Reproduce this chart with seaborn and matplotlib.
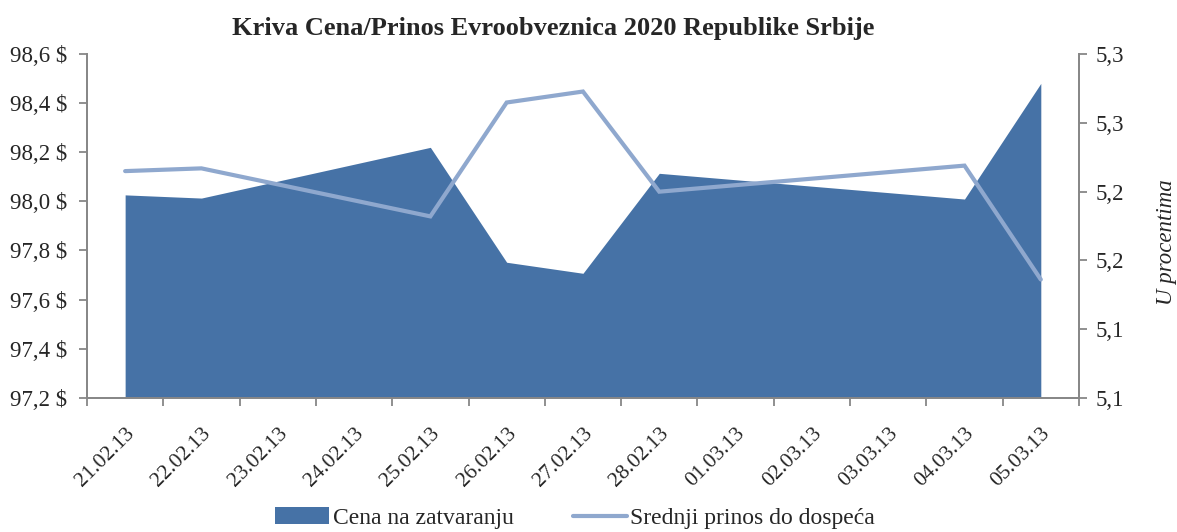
import math
from datetime import date

import matplotlib
matplotlib.use("Agg")
import matplotlib.pyplot as plt
from matplotlib.lines import Line2D
from matplotlib.patches import Patch
from matplotlib.ticker import FuncFormatter, FixedLocator
import pandas as pd
import seaborn as sns

# podaci sa grafikona
datumi = ["21.02.13", "22.02.13", "25.02.13", "26.02.13", "27.02.13",
          "28.02.13", "04.03.13", "05.03.13"]
cena = [98.027, 98.014, 98.221, 97.752, 97.707, 98.115, 98.010, 98.482]
prinos = [5.215, 5.217, 5.182, 5.265, 5.273, 5.200, 5.219, 5.136]
kalendar = ["21.02.13", "22.02.13", "23.02.13", "24.02.13", "25.02.13",
            "26.02.13", "27.02.13", "28.02.13", "01.03.13", "02.03.13",
            "03.03.13", "04.03.13", "05.03.13"]

sns.set_theme(style="white")
plt.rcParams['font.family'] = ['Liberation Serif', 'DejaVu Serif']

boja_povrs = "#4672A6"
boja_linija = "#8FA8CE"
siva = "#878787"


def u_dan(s):
    d, m, g = s.split(".")
    return date(2000 + int(g), int(m), int(d))


pocetak = u_dan(kalendar[0])
df = pd.DataFrame({
    "x": [(u_dan(d) - pocetak).days for d in datumi],
    "cena": cena,
    "prinos": prinos,
})

fig = plt.figure(figsize=(11.77, 5.32), dpi=100)
ax = fig.add_axes([0.0739, 0.2528, 0.9167 - 0.0739, 0.8976 - 0.2528])
ax2 = ax.twinx()

ax.fill_between(df["x"], 97.2, df["cena"], color=boja_povrs, linewidth=0)
sns.lineplot(data=df, x="x", y="prinos", ax=ax2, color=boja_linija,
             linewidth=3.0, solid_joinstyle="miter")

ax.set_xlim(-0.5, len(kalendar) - 0.5)
ax.set_ylim(97.2, 98.6)
ax2.set_ylim(5.05, 5.30)
ax.set_yticks([97.2 + 0.2 * i for i in range(8)])
ax2.set_yticks([5.05 + 0.05 * i for i in range(6)])

ax.yaxis.set_major_formatter(FuncFormatter(lambda v, p: f"{v:.1f} $".replace(".", ",")))
ax2.yaxis.set_major_formatter(FuncFormatter(
    lambda v, p: f"{math.floor(v * 10 + 0.5 + 1e-9) / 10:.1f}".replace(".", ",")))

ax.xaxis.set_major_locator(FixedLocator([i - 0.5 for i in range(len(kalendar) + 1)]))
ax.xaxis.set_minor_locator(FixedLocator(list(range(len(kalendar)))))
ax.set_xticklabels([], minor=False)
ax.set_xticklabels(kalendar, minor=True, rotation=45, ha="right",
                   rotation_mode="anchor", fontsize=15.5)
ax.tick_params(axis="x", which="minor", length=0, pad=19)
ax.tick_params(axis="x", which="major", length=6, width=1.3, color=siva, direction="out")
ax.tick_params(axis="y", length=6, width=1.3, color=siva, direction="out", labelsize=16.5, pad=8)
ax2.tick_params(axis="y", length=6, width=1.3, color=siva, direction="out", labelsize=16.5, pad=6)
ax.xaxis.set_tick_params(bottom=True)
ax.yaxis.set_tick_params(left=True)
ax2.yaxis.set_tick_params(right=True)

for a in (ax, ax2):
    a.set_xlabel("")
    a.set_ylabel("")
    a.spines["top"].set_visible(False)
    for s in ("left", "bottom", "right"):
        a.spines[s].set_color(siva)
        a.spines[s].set_linewidth(1.3)
    a.grid(False)

ax2.set_ylabel("U procentima", fontsize=16.5, style="italic")
ax2.yaxis.set_label_coords(1.078, 0.453)

fig.text(0.47, 0.947, "Kriva Cena/Prinos Evroobveznica 2020 Republike Srbije",
         fontsize=19, fontweight="bold", ha="center", va="center")

ruke = [Patch(facecolor=boja_povrs, edgecolor="none"),
        Line2D([0], [0], color=boja_linija, linewidth=3.0)]
fig.legend(ruke, ["Cena na zatvaranju", "Srednji prinos do dospeća"],
           loc="center", bbox_to_anchor=(0.4885, 0.026), ncol=2, frameon=False,
           fontsize=17, handlelength=2.3, handletextpad=0.15, columnspacing=2.5)

fig.savefig("out.png", dpi=100)
